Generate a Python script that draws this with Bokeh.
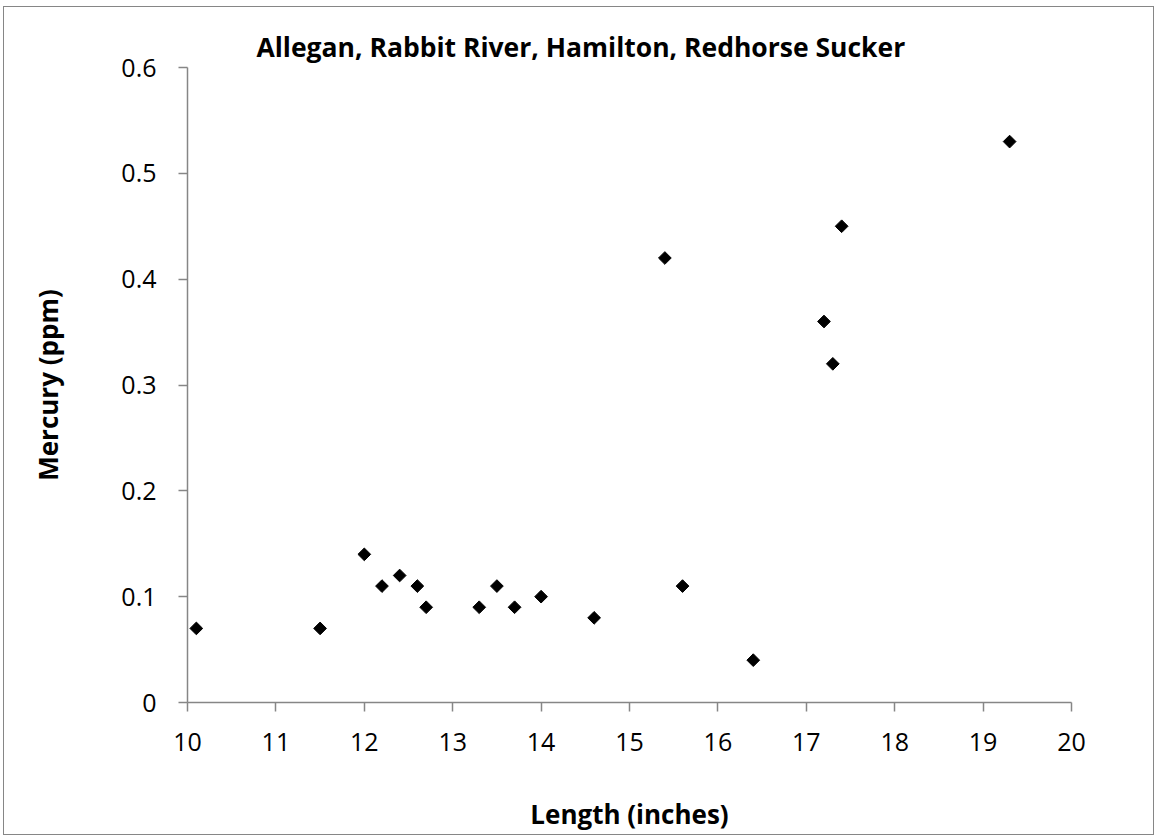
import math
from bokeh.plotting import figure
from bokeh.models import FixedTicker, ColumnDataSource, Range1d, NumeralTickFormatter
from bokeh.embed import file_html
from bokeh.resources import INLINE

chart_title = "Allegan, Rabbit River, Hamilton, Redhorse Sucker"
x_label = "Length (inches)"
y_label = "Mercury (ppm)"

length_in = [10.1, 11.5, 12.0, 12.2, 12.4, 12.6, 12.7, 13.3, 13.5, 13.7,
             14.0, 14.6, 15.4, 15.6, 16.4, 17.2, 17.3, 17.4, 19.3]
mercury_ppm = [0.07, 0.07, 0.14, 0.11, 0.12, 0.11, 0.09, 0.09, 0.11, 0.09,
               0.10, 0.08, 0.42, 0.11, 0.04, 0.36, 0.32, 0.45, 0.53]

x_ticks = [10, 11, 12, 13, 14, 15, 16, 17, 18, 19, 20]
x_tick_labels = ["10", "11", "12", "13", "14", "15", "16", "17", "18", "19", "20"]
y_ticks = [0, 0.1, 0.2, 0.3, 0.4, 0.5, 0.6]
y_tick_labels = ["0", "0.1", "0.2", "0.3", "0.4", "0.5", "0.6"]

FONT = "Open Sans"
AXIS_GRAY = "#868686"

source = ColumnDataSource(data=dict(x=length_in, y=mercury_ppm))

p = figure(
    output_backend="svg",
    toolbar_location=None,
    frame_width=884,
    frame_height=635,
    min_border_left=183,
    min_border_right=82,
    min_border_top=60,
    min_border_bottom=130,
    x_range=Range1d(x_ticks[0], x_ticks[-1]),
    y_range=Range1d(y_ticks[0], y_ticks[-1]),
    title=chart_title,
)
p.styles = {"border": f"1px solid {AXIS_GRAY}", "margin-left": "3px", "margin-top": "6px"}
p.outline_line_color = None
p.background_fill_color = "white"
p.border_fill_color = "white"
p.grid.visible = False

p.title.text_font = FONT
p.title.text_font_style = "bold"
p.title.text_font_size = "26.5px"
p.title.text_color = "black"
p.title.align = "left"
p.title.offset = 69
p.title.standoff = 5

p.scatter("x", "y", source=source, marker="square", size=9, angle=math.pi / 4,
          fill_color="black", line_color="black")

for ax, ticks, labels in ((p.xaxis[0], x_ticks, x_tick_labels), (p.yaxis[0], y_ticks, y_tick_labels)):
    ax.ticker = FixedTicker(ticks=ticks)
    ax.major_label_overrides = {t: l for t, l in zip(ticks, labels)}
    ax.formatter = NumeralTickFormatter(format="0.[0]")
    ax.axis_line_color = AXIS_GRAY
    ax.axis_line_width = 1.5
    ax.major_tick_line_color = AXIS_GRAY
    ax.major_tick_line_width = 1.5
    ax.major_tick_in = 0
    ax.major_tick_out = 9
    ax.minor_tick_line_color = None
    ax.major_label_text_font = FONT
    ax.major_label_text_font_size = "25px"
    ax.major_label_text_color = "black"
    ax.axis_label_text_font = FONT
    ax.axis_label_text_font_size = "26px"
    ax.axis_label_text_font_style = "bold"
    ax.axis_label_text_color = "black"

p.xaxis.axis_label = x_label
p.yaxis.axis_label = y_label
p.xaxis.major_label_standoff = 21
p.yaxis.major_label_standoff = 22
p.xaxis.axis_label_standoff = 42
p.yaxis.axis_label_standoff = 52

open("out.html", "w").write(file_html(p, INLINE))
